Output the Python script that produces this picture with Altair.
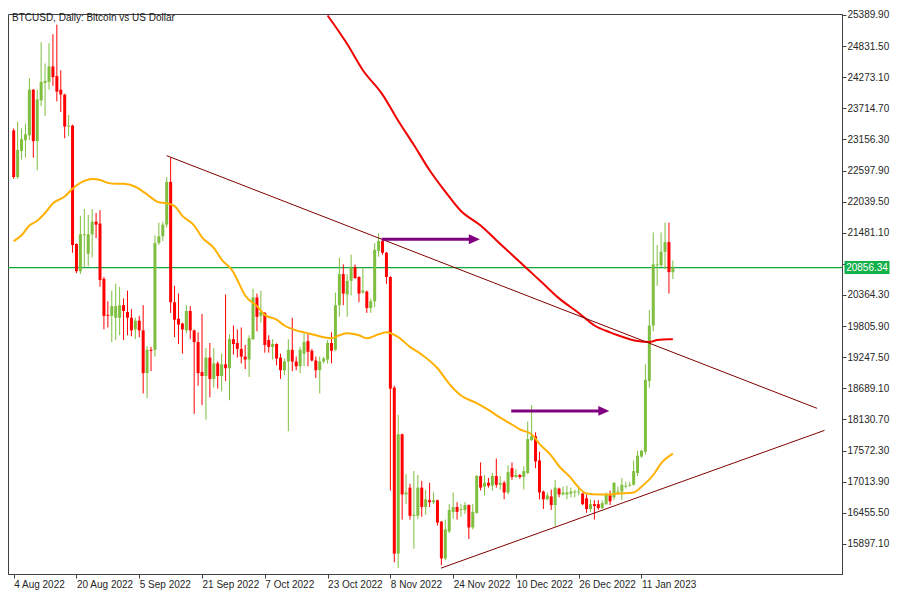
import altair as alt
import pandas as pd

# ---------------- data ----------------
# day index 0 = 4 Aug 2022, one candle per day
opens = [23317, 22481, 22951, 23142, 23230, 24048, 23125, 23857, 24171, 24188,
         24466, 24292, 24048, 23961, 23387, 23404, 21278, 20791, 21435, 21104,
         21452, 21679, 21645, 20652, 20007, 19990, 19955, 19955, 20181, 20059,
         19955, 19746, 19903, 19729, 18962, 19380, 19380, 21296, 21418, 21627,
         22394, 20233, 19937, 19851, 19729, 20077, 19729, 19519, 18980, 18910,
         19240, 18858, 19136, 18910, 19119, 19049, 19571, 19502, 19397, 19258,
         19206, 19571, 20320, 19990, 20042, 19554, 19432, 19484, 19240, 19014,
         19171, 19380, 19171, 19084, 19310, 19536, 19362, 19188, 19014, 19171,
         19206, 19502, 19380, 20181, 20739, 20373, 20617, 20861, 20687, 20407,
         20425, 20129, 20251, 21156, 21331, 21122, 20687, 18700, 15722, 17864,
         16784, 16906, 16401, 16401, 16906, 16558, 16680, 16645, 16680, 16296,
         15635, 16122, 16471, 16558, 16506, 16506, 16593, 16192, 16453, 17115,
         16923, 16993, 16941, 17115, 16958, 16993, 16819, 17255, 17097, 17133,
         17097, 17168, 17760, 17829, 17394, 16836, 16697, 16749, 16593, 16889,
         16784, 16784, 16801, 16819, 16819, 16801, 16715, 16523, 16610, 16610,
         16541, 16610, 16767, 16732, 16819, 16836, 16923, 16941, 16958, 17168,
         17464, 17551, 18822, 19816, 20896, 20896, 21139, 21313, 20774]
highs = [23352, 23474, 23352, 23439, 24258, 24060, 24048, 24902, 24519, 24884,
         25042, 25216, 24397, 23975, 23595, 23421, 21290, 21784, 21906, 21801,
         21906, 21836, 21888, 20687, 20251, 20442, 20564, 20512, 20303, 20442,
         20111, 19955, 19990, 20181, 19449, 19432, 21435, 21662, 21679, 22481,
         22829, 20529, 20390, 19868, 20181, 20164, 19740, 19693, 20025, 19414,
         19502, 19414, 19171, 19310, 20373, 19658, 19816, 19746, 19781, 19467,
         19641, 20477, 20390, 20442, 20059, 19641, 19571, 19495, 19310, 19223,
         19571, 19955, 19258, 19432, 19676, 19676, 19397, 19258, 19258, 19258,
         19554, 19693, 20407, 21035, 20913, 20739, 21087, 20913, 20700, 20861,
         20442, 20303, 21296, 21470, 21383, 21135, 20700, 18735, 18213, 17875,
         17150, 16976, 17203, 17133, 17028, 16871, 16993, 16819, 16690, 16305,
         16332, 16610, 16819, 16645, 16610, 16645, 16605, 16610, 17133, 17359,
         17133, 17080, 17168, 17429, 17115, 17028, 17307, 17359, 17238, 17150,
         17290, 18091, 18387, 17899, 17551, 16854, 16819, 16871, 17045, 16906,
         16923, 16941, 16906, 16871, 16941, 16815, 16784, 16697, 16680, 16680,
         16680, 16819, 16854, 17005, 16923, 17080, 17011, 17011, 17394, 17568,
         17586, 19119, 20094, 21487, 21261, 21487, 21662, 21662, 20983]
lows = [22446, 22446, 22794, 22829, 23142, 22829, 22603, 23752, 23578, 24048,
        24118, 23839, 23648, 23177, 23213, 21122, 20756, 20739, 20861, 20878,
        21035, 21383, 20512, 19746, 19781, 19519, 19554, 19641, 19554, 19641,
        19623, 19571, 19606, 18596, 18509, 18997, 19258, 21261, 21331, 21575,
        20042, 19606, 19484, 19310, 19676, 19571, 18230, 18735, 18387, 18126,
        18526, 18700, 18683, 18631, 18822, 18474, 19293, 19240, 19136, 19032,
        18892, 19554, 19711, 19868, 19328, 19328, 19206, 19101, 18858, 18927,
        17916, 18997, 19014, 18962, 19084, 19084, 19171, 18875, 18596, 19136,
        19136, 19136, 19362, 19972, 20181, 19972, 20355, 20652, 20233, 20390,
        20042, 20042, 20146, 21052, 21087, 20564, 16854, 15565, 15461, 16332,
        16610, 16332, 15809, 16349, 16384, 16419, 16558, 16610, 16226, 15513,
        15600, 16087, 16349, 16332, 16384, 16436, 15983, 16157, 16436, 16854,
        16767, 16906, 16854, 16906, 16871, 16697, 16784, 17045, 17080, 17063,
        16871, 17150, 17742, 17255, 16697, 16523, 16680, 16506, 16209, 16732,
        16767, 16697, 16732, 16732, 16767, 16593, 16453, 16471, 16332, 16506,
        16523, 16593, 16593, 16680, 16784, 16680, 16889, 16923, 16941, 17115,
        17446, 17499, 18700, 19711, 20529, 20861, 20826, 20390, 20652]
closes = [22481, 22968, 23160, 23247, 24048, 23125, 23874, 24188, 24206, 24466,
          24275, 24013, 23961, 23387, 23404, 21261, 20791, 21452, 21452, 21452,
          21679, 21627, 20634, 19990, 19990, 20164, 20164, 20181, 20077, 19955,
          19729, 19903, 19729, 18962, 19380, 19362, 21296, 21418, 21627, 22394,
          20233, 19920, 19833, 19746, 20077, 19729, 19519, 18962, 18910, 19240,
          18858, 19136, 18910, 19119, 19049, 19571, 19484, 19397, 19258, 19206,
          19588, 20320, 19972, 20059, 19467, 19432, 19484, 19223, 19014, 19171,
          19380, 19171, 19084, 19380, 19519, 19345, 19188, 19014, 19171, 19223,
          19502, 19362, 20181, 20739, 20390, 20617, 20861, 20669, 20390, 20442,
          20129, 20251, 21174, 21331, 21122, 20687, 18683, 15722, 17864, 16784,
          16819, 16401, 16419, 16906, 16558, 16697, 16645, 16680, 16279, 15635,
          16157, 16506, 16558, 16471, 16523, 16593, 16192, 16471, 17115, 16906,
          16993, 16941, 17115, 16958, 16993, 16819, 17185, 17097, 17133, 17097,
          17203, 17777, 17829, 17377, 16819, 16697, 16767, 16593, 16906, 16784,
          16819, 16819, 16836, 16836, 16836, 16610, 16523, 16610, 16575, 16541,
          16627, 16784, 16662, 16993, 16836, 16958, 16941, 16958, 17203, 17481,
          17568, 18840, 19816, 20913, 20913, 21139, 21313, 20774, 20856.34]

# moving averages
ma_fast_day = [0, 2, 4, 6, 8, 10, 13, 15, 18, 20, 22, 24, 26, 28, 31, 34, 36, 37, 39, 41,
               43, 46, 48, 51, 53, 56, 57, 59, 62, 64, 67, 69, 72, 74, 77, 79, 81, 83, 85, 88,
               90, 93, 95, 98, 101, 104, 108, 111, 114, 118, 121, 124, 127, 129, 132, 134, 137, 139, 142, 144,
               146, 149, 151, 154, 158, 160, 163, 165, 168]
ma_fast_val = [21330, 21435, 21610, 21697, 21836, 22010, 22132, 22271, 22411, 22446,
               22429, 22376, 22359, 22359, 22306, 22167, 22062, 22027, 22010, 21958,
               21784, 21610, 21400, 21209, 21000, 20774, 20634, 20355, 20164, 20007,
               19920, 19816, 19729, 19693, 19641, 19606, 19588, 19641, 19676, 19641,
               19588, 19658, 19693, 19606, 19432, 19293, 19049, 18770, 18561, 18422,
               18300, 18161, 18039, 17951, 17864, 17690, 17481, 17290, 17080, 16906,
               16801, 16784, 16784, 16801, 16819, 16923, 17133, 17342, 17516]
ma_slow_day = [80, 85, 89, 94, 98, 102, 106, 110, 114, 119, 123, 127, 131, 135, 139,
               144, 148, 152, 154, 159, 162, 164, 167, 168]
ma_slow_val = [25380, 24867, 24397, 23961, 23491, 23055, 22603, 22219, 21871, 21610,
               21348, 21087, 20826, 20564, 20303, 20042, 19816, 19693, 19641, 19536,
               19519, 19554, 19571, 19571]

# trend lines
tl_day1 = [39.0, 108.9]
tl_px1 = [22864, 15461]
tl_day2 = [204.75, 206.65]
tl_px2 = [18329, 17934]

# arrows
arrow_start = [93.8, 126.8]
arrow_head = [117.4, 150.4]
arrow_price = [21365, 18283]

current_price = 20856.34

x_tick_days = [0, 16, 32, 48, 64, 80, 96, 112, 128, 144, 160]
x_tick_labels = ["4 Aug 2022", "20 Aug 2022", "5 Sep 2022", "21 Sep 2022", "7 Oct 2022",
                 "23 Oct 2022", "8 Nov 2022", "24 Nov 2022", "10 Dec 2022", "26 Dec 2022",
                 "11 Jan 2023"]
y_ticks = [15897.10, 16455.50, 17013.90, 17572.30, 18130.70, 18689.10, 19247.50, 19805.90,
           20364.30, 20922.70, 21481.10, 22039.50, 22597.90, 23156.30, 23714.70, 24273.10,
           24831.50, 25389.90]
hidden_tick = 20922.70  # covered by the current-price box in the reference

title_text = "BTCUSD, Daily:  Bitcoin vs US Dollar"

# ---------------- styling ----------------
BULL = "#7fbf3f"
BEAR = "#ff0000"
FONT = "Liberation Sans"
W, H = 834, 560

xs = alt.Scale(domain=[-0.175, 209.83], nice=False, zero=False)
ys = alt.Scale(domain=[15356, 25407], nice=False, zero=False)

label_list = "[" + ",".join("'" + s + "'" for s in x_tick_labels) + "]"
xaxis = alt.Axis(values=x_tick_days, labelExpr=label_list + "[round(datum.value/16)]",
                 title=None, orient="bottom", labelAlign="left", tickSize=4,
                 labelPadding=1, labelFlush=False, labelOverlap=False, grid=False)
yaxis = alt.Axis(values=y_ticks, title=None, orient="right", tickSize=4,
                 labelExpr=f"abs(datum.value - {hidden_tick}) < 0.01 ? '' : format(datum.value, '.2f')",
                 labelPadding=1, labelFlush=False, labelOverlap=False, grid=False)


def X(field):
    return alt.X(field + ":Q", scale=xs, axis=xaxis)


def Y(field):
    return alt.Y(field + ":Q", scale=ys, axis=yaxis)


df = pd.DataFrame({"day": list(range(len(opens))), "open": opens, "high": highs,
                   "low": lows, "close": closes})
df["dir"] = ["up" if c >= o else "down" for o, c in zip(opens, closes)]
color = alt.Color("dir:N", scale=alt.Scale(domain=["up", "down"], range=[BULL, BEAR]), legend=None)

price_df = pd.DataFrame({"price": [current_price], "label": [f"{current_price:.2f}"]})
price_line = alt.Chart(price_df).mark_rule(color="#0fa83c", strokeWidth=1.2).encode(y=Y("price"))

wicks = alt.Chart(df).mark_rule(strokeWidth=1).encode(x=X("day"), y=Y("low"), y2="high", color=color)
bodies = alt.Chart(df).mark_bar(size=3).encode(x=X("day"), y=Y("open"), y2="close", color=color)

fast_df = pd.DataFrame({"day": ma_fast_day, "v": ma_fast_val})
slow_df = pd.DataFrame({"day": ma_slow_day, "v": ma_slow_val})
ma_fast = alt.Chart(fast_df).mark_line(color="#ffb000", strokeWidth=2, interpolate="monotone").encode(
    x=X("day"), y=Y("v"))
ma_slow = alt.Chart(slow_df).mark_line(color="#f00000", strokeWidth=2, interpolate="monotone").encode(
    x=X("day"), y=Y("v"))

tl_df = pd.DataFrame({"d1": tl_day1, "p1": tl_px1, "d2": tl_day2, "p2": tl_px2})
trend = alt.Chart(tl_df).mark_rule(color="#800000", strokeWidth=1).encode(
    x=X("d1"), x2="d2", y=Y("p1"), y2="p2")

ar_df = pd.DataFrame({"s": arrow_start, "h": arrow_head, "p": arrow_price})
arrow_shaft = alt.Chart(ar_df).mark_rule(color="#800080", strokeWidth=3).encode(
    x=X("s"), x2="h", y=Y("p"))
arrow_tip = alt.Chart(ar_df).mark_point(shape="M-1,-0.9L1,0L-1,0.9Z", size=121, filled=True,
                                        color="#800080", opacity=1).encode(x=X("h"), y=Y("p"))

box = alt.Chart(price_df).mark_point(shape="M-1,-0.29L1,-0.29L1,0.29L-1,0.29Z", size=2025,
                                     filled=True, color="#14b04a", opacity=1).encode(
    x=alt.value(W + 25), y=Y("price"))
box_text = alt.Chart(price_df).mark_text(color="white", font=FONT, fontSize=10, align="center",
                                         baseline="middle").encode(
    x=alt.value(W + 25), y=Y("price"), text="label:N")

title_df = pd.DataFrame({"t": [title_text]})
title = alt.Chart(title_df).mark_text(font=FONT, fontSize=10, color="#1a1a1a", align="left",
                                      baseline="top").encode(
    x=alt.value(4), y=alt.value(-1), text="t:N")

chart = alt.layer(price_line, wicks, bodies, ma_fast, ma_slow, trend, arrow_shaft, arrow_tip,
                  box, box_text, title).properties(
    width=W, height=H,
    autosize=alt.AutoSizeParams(type="none"),
    padding={"left": 0, "top": 6, "right": 50, "bottom": 18},
    background="white",
).configure_view(stroke="#404040", strokeWidth=1).configure_axis(
    labelFont=FONT, labelFontSize=10, labelColor="#262626", domainColor="#404040",
    tickColor="#404040", grid=False)

chart.save("out.html", embed_options={"renderer": "svg", "actions": False})
